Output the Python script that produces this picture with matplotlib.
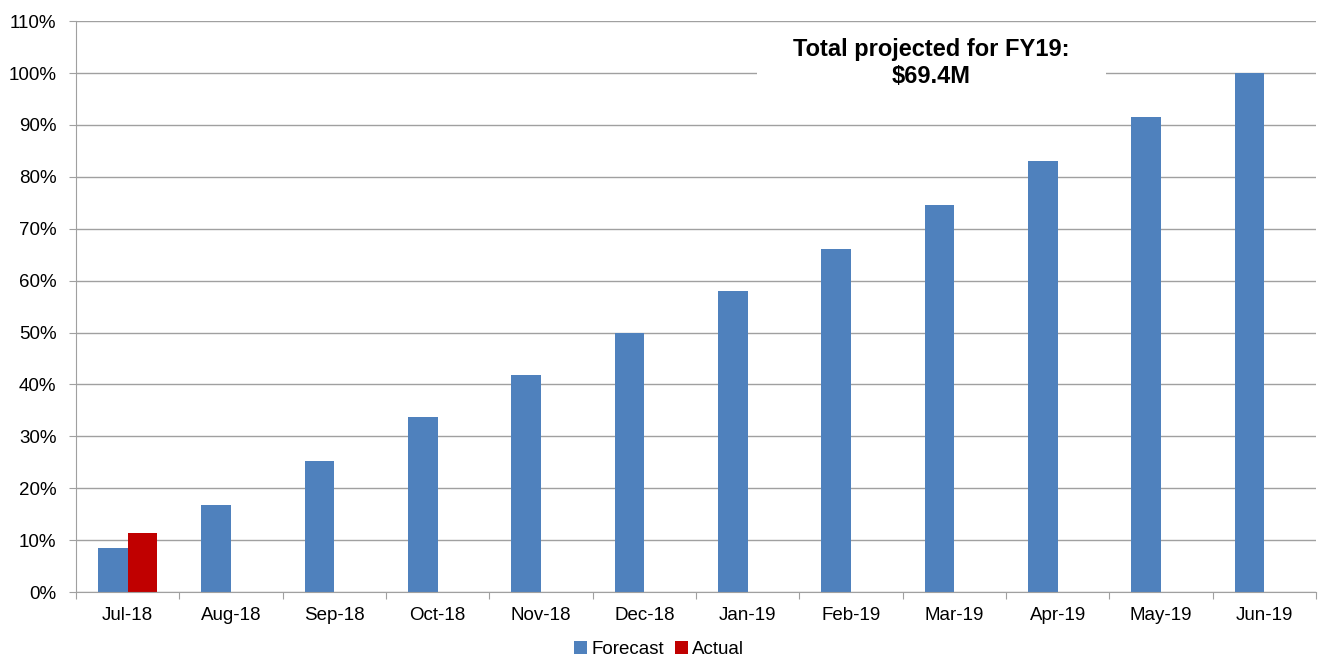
import matplotlib.pyplot as plt
import numpy as np
from matplotlib.patches import Rectangle

plt.rcParams['font.family'] = ['Liberation Sans', 'DejaVu Sans']

months = ['Jul-18', 'Aug-18', 'Sep-18', 'Oct-18', 'Nov-18', 'Dec-18',
          'Jan-19', 'Feb-19', 'Mar-19', 'Apr-19', 'May-19', 'Jun-19']
forecast = [8.5, 16.8, 25.2, 33.7, 41.8, 49.9, 58.0, 66.1, 74.6, 83.0, 91.5, 100.0]
actual = [11.4, 0, 0, 0, 0, 0, 0, 0, 0, 0, 0, 0]

blue = '#4F81BD'
red = '#C00000'
grid_c = '#A0A0A0'

fig = plt.figure(figsize=(13.18, 6.6), dpi=100)
ax = fig.add_axes([0.0577, 0.103, 0.9408, 0.865])

x = np.arange(len(months))
w = 0.286
ax.bar(x - w / 2, forecast, width=w, color=blue, label='Forecast', zorder=2)
ax.bar(x + w / 2, actual, width=w, color=red, label='Actual', zorder=2)

ax.set_xlim(-0.5, len(months) - 0.5)
ax.set_ylim(0, 110)
ax.set_yticks(np.arange(0, 111, 10))
ax.set_yticklabels([f'{v}%' for v in range(0, 111, 10)], fontsize=13.5)
ax.yaxis.grid(True, color=grid_c, linewidth=1, zorder=0)
ax.set_axisbelow(True)

ax.set_xticks(np.arange(-0.5, len(months), 1))
ax.set_xticklabels([])
ax.set_xticks(x, minor=True)
ax.set_xticklabels(months, minor=True, fontsize=13.5)
ax.tick_params(axis='x', which='minor', length=0, pad=11)
ax.tick_params(axis='x', which='major', length=5, color=grid_c)
ax.tick_params(axis='y', length=5, color=grid_c, pad=9)

for s in ['top', 'right']:
    ax.spines[s].set_visible(False)
for s in ['left', 'bottom']:
    ax.spines[s].set_color(grid_c)

# white box behind the annotation
ax.add_patch(Rectangle((0.549, 0.853), 0.282, 0.13, transform=ax.transAxes,
                       facecolor='white', edgecolor='none', zorder=1))
ax.text(0.6895, 0.927, 'Total projected for FY19:\n$69.4M', transform=ax.transAxes,
        ha='center', va='center', fontsize=17, fontweight='bold',
        linespacing=1.25, zorder=3)

fig.legend(loc='center', bbox_to_anchor=(0.5, 0.016), ncol=2, frameon=False,
           fontsize=13.5, handlelength=0.7, handleheight=0.7, handletextpad=0.2,
           columnspacing=0.6, borderpad=0)

fig.savefig('out.png', dpi=100)
